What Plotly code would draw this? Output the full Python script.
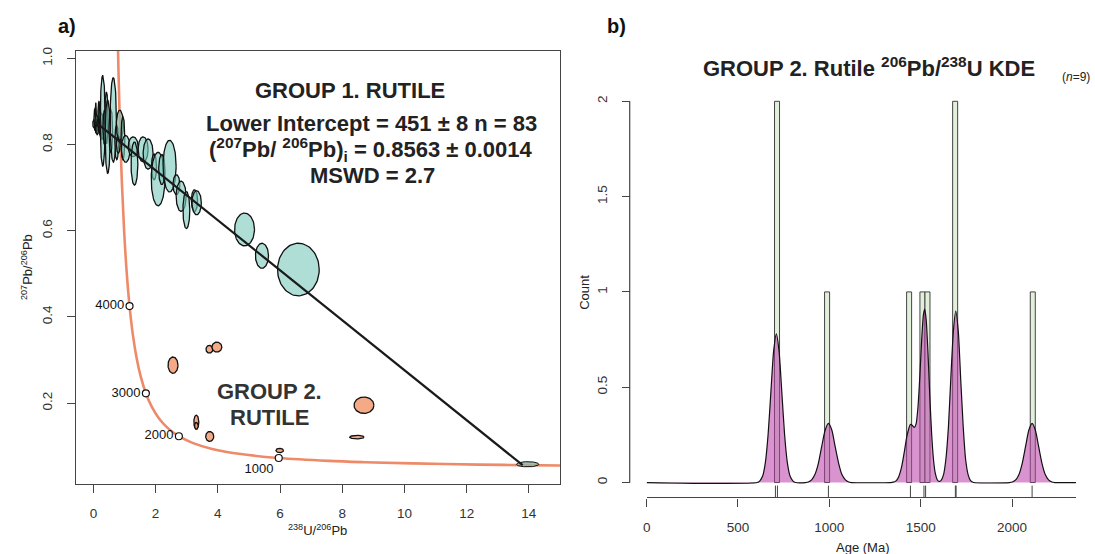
import numpy as np
import plotly.graph_objects as go

W, H = 1095, 554
FONT = "Arial, Liberation Sans, sans-serif"

# ---------------- Panel a) data ----------------
# Concordia curve (Tera-Wasserburg)
conc_age = [400, 450, 500, 600, 700, 800, 1000, 1250, 1500, 1750, 2000, 2250, 2500,
            2750, 3000, 3250, 3500, 3750, 4000, 4250, 4500, 4750, 5000, 5100, 5200, 5300]
conc_x = [15.621, 13.831, 12.399, 10.252, 8.718, 7.568, 5.9593, 4.6733, 3.8170, 3.2063,
          2.7490, 2.3941, 2.1108, 1.8796, 1.6874, 1.5253, 1.3869, 1.2672, 1.1630, 1.0714,
          0.99024, 0.91799, 0.85328, 0.82925, 0.80620, 0.78406]
conc_y = [0.05473, 0.05597, 0.05725, 0.05993, 0.06278, 0.06583, 0.07253, 0.08222, 0.09364,
          0.10711, 0.12304, 0.14192, 0.16434, 0.19099, 0.22275, 0.26066, 0.30597, 0.36019,
          0.42520, 0.50322, 0.59697, 0.70978, 0.84565, 0.90752, 0.97421, 1.04609]

# Age markers on the concordia
mark_age = [1000, 2000, 3000, 4000]
mark_x = [5.9593, 2.7490, 1.6874, 1.1630]
mark_y = [0.07253, 0.12304, 0.22275, 0.42520]

# Discordia (Group 1): upper intercept (207Pb/206Pb)i and lower intercept (451 Ma)
disc_x = [0.0, 13.80]
disc_y = [0.8563, 0.0560]

# Group 1 rutile error ellipses: centre x, centre y, half-width, half-height
g1_x = [0.03, 0.08, 0.10, 0.16, 0.20, 0.26, 0.12, 0.22, 0.05, 0.28, 0.18,
        0.30, 0.36, 0.42, 0.46, 0.56, 0.64, 0.75, 0.80,
        0.85, 0.95, 1.04, 1.28, 1.32, 1.60, 1.76, 1.95, 2.08, 2.20, 2.45, 2.67, 2.82, 2.99,
        3.25, 3.32, 4.86, 5.42, 6.59]
g1_y = [0.848, 0.862, 0.850, 0.845, 0.858, 0.848, 0.835, 0.840, 0.858, 0.832, 0.870,
        0.855, 0.840, 0.862, 0.818, 0.832, 0.857,
        0.805, 0.800, 0.845, 0.815, 0.790, 0.795, 0.756, 0.789, 0.778, 0.748, 0.720, 0.742,
        0.750, 0.707, 0.680, 0.648, 0.670, 0.665, 0.603, 0.542, 0.510]
g1_sx = [0.05, 0.02, 0.07, 0.05, 0.05, 0.05, 0.04, 0.04, 0.03, 0.04, 0.03,
         0.08, 0.05, 0.05, 0.08, 0.06, 0.10, 0.06, 0.06,
         0.11, 0.06, 0.14, 0.16, 0.11, 0.16, 0.16, 0.08, 0.22, 0.10, 0.21, 0.11, 0.16, 0.11,
         0.10, 0.15, 0.32, 0.21, 0.67]
g1_sy = [0.010, 0.035, 0.018, 0.014, 0.032, 0.025, 0.012, 0.020, 0.025, 0.020, 0.030,
         0.105, 0.040, 0.060, 0.085, 0.050, 0.098,
         0.040, 0.020, 0.035, 0.050, 0.031, 0.023, 0.050, 0.029, 0.035, 0.030, 0.062, 0.035,
         0.060, 0.023, 0.035, 0.043, 0.025, 0.028, 0.038, 0.029, 0.061]

# Lower-intercept ellipse
li_x, li_y, li_sx, li_sy = 13.96, 0.058, 0.36, 0.006

# Group 2 rutile error ellipses
g2_x = [2.56, 3.73, 3.97, 3.31, 3.31, 3.74, 5.99, 8.70, 8.47]
g2_y = [0.288, 0.325, 0.330, 0.156, 0.147, 0.1225, 0.090, 0.195, 0.121]
g2_sx = [0.16, 0.11, 0.16, 0.08, 0.06, 0.13, 0.12, 0.32, 0.23]
g2_sy = [0.019, 0.009, 0.0115, 0.016, 0.008, 0.0115, 0.005, 0.019, 0.004]

# ---------------- Panel b) data ----------------
ages = [705, 716, 995, 1444, 1518, 1527, 1690, 1694, 2110]
bin_left = [700, 974, 1423, 1496, 1523.5, 1675, 2100]
bin_count = [2, 1, 1, 1, 1, 2, 1]
bin_width = 27.5

kde_age = [0, 605, 620, 635, 650, 665, 680, 695, 710, 725, 740, 755, 770, 785, 800, 815,
           870, 885, 903, 921, 940, 958, 977, 995, 1014, 1032, 1051, 1069, 1088, 1106, 1120,
           1335, 1350, 1365, 1380, 1395, 1410, 1425, 1444, 1455, 1465, 1475, 1485, 1495, 1505,
           1515, 1522, 1530, 1540, 1550, 1560, 1570, 1580, 1590, 1600,
           1611, 1625, 1638, 1652, 1665, 1679, 1692, 1706, 1719, 1733, 1746, 1760, 1773, 1790,
           1985, 2002, 2020, 2038, 2056, 2074, 2092, 2110, 2128, 2146, 2164, 2182, 2200, 2218,
           2235, 2350]
kde_dens = [0, 0, 0.009, 0.034, 0.106, 0.253, 0.473, 0.688, 0.780, 0.688, 0.473, 0.253, 0.106,
            0.034, 0.009, 0,
            0, 0.003, 0.014, 0.042, 0.101, 0.188, 0.274, 0.310, 0.274, 0.188, 0.101, 0.042,
            0.014, 0.003, 0,
            0, 0.002, 0.009, 0.031, 0.079, 0.158, 0.245, 0.305, 0.299, 0.289, 0.308, 0.392,
            0.549, 0.738, 0.880, 0.910, 0.856, 0.681, 0.455, 0.257, 0.122, 0.049, 0.016, 0.006,
            0.010, 0.040, 0.122, 0.292, 0.546, 0.794, 0.900, 0.794, 0.546, 0.292, 0.122, 0.040,
            0.010, 0,
            0, 0.003, 0.014, 0.042, 0.101, 0.188, 0.274, 0.310, 0.274, 0.188, 0.101, 0.042,
            0.014, 0.003, 0, 0]

# ---------------- Build figure ----------------
fig = go.Figure()
theta = np.linspace(0, 2 * np.pi, 91)


def ellipse(cx, cy, sx, sy, fill, outline="#111111", lw=1.3):
    fig.add_trace(go.Scatter(
        x=cx + sx * np.cos(theta), y=cy + sy * np.sin(theta),
        mode="lines", fill="toself", fillcolor=fill,
        line=dict(color=outline, width=lw), hoverinfo="skip",
        showlegend=False, xaxis="x", yaxis="y"))


# concordia
fig.add_trace(go.Scatter(x=conc_x, y=conc_y, mode="lines",
                         line=dict(color="#EE8A68", width=2.6, shape="spline"),
                         hoverinfo="skip", xaxis="x", yaxis="y"))

for cx, cy, sx, sy in zip(g1_x, g1_y, g1_sx, g1_sy):
    ellipse(cx, cy, sx, sy, "rgba(120,200,185,0.6)")

for cx, cy, sx, sy in zip(g2_x, g2_y, g2_sx, g2_sy):
    ellipse(cx, cy, sx, sy, "rgba(240,140,95,0.75)")

ellipse(li_x, li_y, li_sx, li_sy, "rgba(150,180,165,0.85)", lw=1.0)

# discordia
fig.add_trace(go.Scatter(x=disc_x, y=disc_y, mode="lines",
                         line=dict(color="#1a1a1a", width=2.2),
                         hoverinfo="skip", xaxis="x", yaxis="y"))

# age markers
fig.add_trace(go.Scatter(
    x=mark_x, y=mark_y, mode="markers+text",
    text=[str(a) for a in mark_age],
    textposition=["bottom left", "middle left", "middle left", "middle left"],
    textfont=dict(family=FONT, size=13, color="#111"),
    marker=dict(size=7, color="white", line=dict(color="#111", width=1.2)),
    hoverinfo="skip", xaxis="x", yaxis="y"))

# histogram
fig.add_trace(go.Bar(
    x=[l + bin_width / 2 for l in bin_left], y=bin_count, width=bin_width,
    marker=dict(color="#E2F0DB", line=dict(color="#444444", width=1)),
    hoverinfo="skip", xaxis="x2", yaxis="y2"))

# KDE
fig.add_trace(go.Scatter(
    x=kde_age, y=kde_dens, mode="lines", fill="tozeroy",
    fillcolor="rgba(185,60,170,0.55)",
    line=dict(color="#111111", width=1.2, shape="spline", smoothing=0.6),
    hoverinfo="skip", xaxis="x2", yaxis="y2"))

# rug
rug_x, rug_y = [], []
for a in ages:
    rug_x += [a, a, None]
    rug_y += [-0.016, -0.077, None]
fig.add_trace(go.Scatter(x=rug_x, y=rug_y, mode="lines",
                         line=dict(color="#444444", width=1),
                         hoverinfo="skip", xaxis="x2", yaxis="y2"))

tickfont = dict(family=FONT, size=13.5, color="#333333")
common = dict(ticks="outside", ticklen=8, tickwidth=1, tickcolor="#444444",
              showgrid=False, zeroline=False, tickfont=tickfont, ticklabelstandoff=9)

fig.update_layout(
    width=W, height=H, margin=dict(l=0, r=0, t=0, b=0),
    paper_bgcolor="white", plot_bgcolor="white", showlegend=False,
    xaxis=dict(domain=[72 / W, 558 / W], range=[-0.567, 15.0],
               tickvals=list(range(0, 15, 2)), showline=True, mirror=True,
               linecolor="#444444", linewidth=1.3, anchor="y", **common),
    yaxis=dict(domain=[1 - 483 / H, 1 - 47 / H], range=[0.0133, 1.018],
               tickvals=[0.2, 0.4, 0.6, 0.8, 1.0],
               ticktext=["0.2", "0.4", "0.6", "0.8", "1.0"], tickangle=-90,
               showline=True, mirror=True, linecolor="#444444", linewidth=1.3,
               anchor="x", **common),
    xaxis2=dict(domain=[645 / W, 1076 / W], range=[0, 2350.7],
                tickvals=[0, 500, 1000, 1500, 2000], showline=True,
                linecolor="#444444", linewidth=1.2, anchor="y2", **common),
    yaxis2=dict(domain=[1 - 497 / H, 1 - 90 / H], range=[-0.078, 2.0417],
                tickvals=[0, 0.5, 1, 1.5, 2], ticktext=["0", "0.5", "1", "1.5", "2"],
                tickangle=-90, showline=False, anchor="free", position=628 / W,
                **common),
    shapes=[dict(type="line", xref="paper", yref="y2", x0=628 / W, x1=628 / W,
                 y0=0, y1=2, line=dict(color="#444444", width=1.2))],
)


def ann(text, px, py, size=13, bold=False, angle=0, color="#222222", xanchor="center"):
    fig.add_annotation(text=("<b>%s</b>" % text) if bold else text,
                       x=px / W, y=1 - py / H, xref="paper", yref="paper",
                       xanchor=xanchor, yanchor="middle", showarrow=False,
                       textangle=angle, font=dict(family=FONT, size=size, color=color))


ann("a)", 63, 22, size=20, bold=True, color="#111")
ann("b)", 615, 22, size=20, bold=True, color="#111")
ann("GROUP 1. RUTILE", 347, 87, size=22, bold=True)
ann("Lower Intercept = 451 ± 8 n = 83", 369, 120, size=22, bold=True)
ann("(<sup>207</sup>Pb/ <sup>206</sup>Pb)<sub>i</sub> = 0.8563 ± 0.0014", 368, 147, size=22, bold=True)
ann("MSWD = 2.7", 370, 173, size=22, bold=True)
ann("GROUP 2.", 266, 390, size=22, bold=True, color="#333")
ann("RUTILE", 266, 417, size=22, bold=True, color="#333")
ann("GROUP 2. Rutile <sup>206</sup>Pb/<sup>238</sup>U KDE", 868, 63, size=22, bold=True)
ann("(<i>n</i>=9)", 1076, 74, size=12)
ann("<sup>207</sup>Pb/<sup>206</sup>Pb", 23, 265, size=13, angle=-90)
ann("<sup>238</sup>U/<sup>206</sup>Pb", 315, 530, size=13)
ann("Count", 583, 290, size=13, angle=-90)
ann("Age (Ma)", 862, 547, size=13)

fig.write_html("out.html", config={"displayModeBar": False},
               post_script="document.body.style.margin='0';document.body.style.overflow='hidden';")
